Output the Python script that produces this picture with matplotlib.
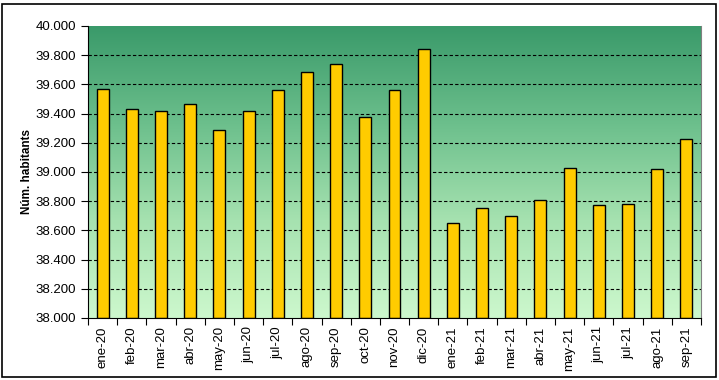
import matplotlib
matplotlib.use("Agg")
import matplotlib.pyplot as plt
import numpy as np
from matplotlib.colors import LinearSegmentedColormap
from matplotlib.patches import Rectangle
from matplotlib.ticker import FuncFormatter, FixedLocator

months = ["ene-20", "feb-20", "mar-20", "abr-20", "may-20", "jun-20", "jul-20",
          "ago-20", "sep-20", "oct-20", "nov-20", "dic-20", "ene-21", "feb-21",
          "mar-21", "abr-21", "may-21", "jun-21", "jul-21", "ago-21", "sep-21"]
values = [39570, 39432, 39418, 39466, 39288, 39418, 39562, 39685, 39740, 39377,
          39562, 39842, 38651, 38753, 38699, 38808, 39027, 38774, 38781, 39021, 39226]
y_ticks = [38000, 38200, 38400, 38600, 38800, 39000, 39200, 39400, 39600, 39800, 40000]

plt.rcParams['font.family'] = ['Liberation Sans', 'DejaVu Sans']

fig = plt.figure(figsize=(7.19, 3.80), dpi=100)
fig.patches.append(Rectangle((2/719, 3/380), 714/719, 373/380, transform=fig.transFigure,
                             fill=False, edgecolor='black', linewidth=1.2))
ax = fig.add_axes([88/719, 62/380, 613/719, 292/380])

x = np.arange(len(months))
ax.set_xlim(-0.5, len(months) - 0.5)
ax.set_ylim(38000, 40000)

cmap = LinearSegmentedColormap.from_list("g", ["#cdf8cd", "#a6e2b0", "#6cbf8c", "#3a9a6a"])
grad = np.linspace(0, 1, 256).reshape(-1, 1)
ax.imshow(grad, aspect='auto', cmap=cmap, origin='lower', extent=[0, 1, 0, 1],
          transform=ax.transAxes, zorder=0)

for yt in y_ticks[1:-1]:
    ax.axhline(yt, color='black', linestyle=(0, (3, 2)), linewidth=0.8, zorder=1)

ax.bar(x, np.array(values) - 38000, bottom=38000, width=0.41, color='#ffcc00',
       edgecolor='black', linewidth=1.0, zorder=2)

ax.set_yticks(y_ticks)
ax.yaxis.set_major_formatter(FuncFormatter(lambda v, p: f"{v/1000:.3f}"))
ax.set_xticks(x)
ax.set_xticklabels(months, rotation=90, fontsize=9.5)
ax.tick_params(axis='x', length=0, pad=6)
ax.xaxis.set_minor_locator(FixedLocator(np.arange(-0.5, len(months), 1)))
ax.tick_params(axis='x', which='minor', length=5, direction='out', width=0.8)
ax.tick_params(axis='y', length=5, direction='out', labelsize=9.5, width=0.8)
ax.set_ylabel("Núm. habitants", fontsize=8.5, fontweight='bold')
ax.yaxis.set_label_coords(-0.089, 0.5)

ax.spines['top'].set_visible(False)
ax.spines['right'].set_color('#808080')
ax.spines['left'].set_linewidth(0.8)
ax.spines['bottom'].set_linewidth(0.8)

fig.savefig("out.png", dpi=100)
